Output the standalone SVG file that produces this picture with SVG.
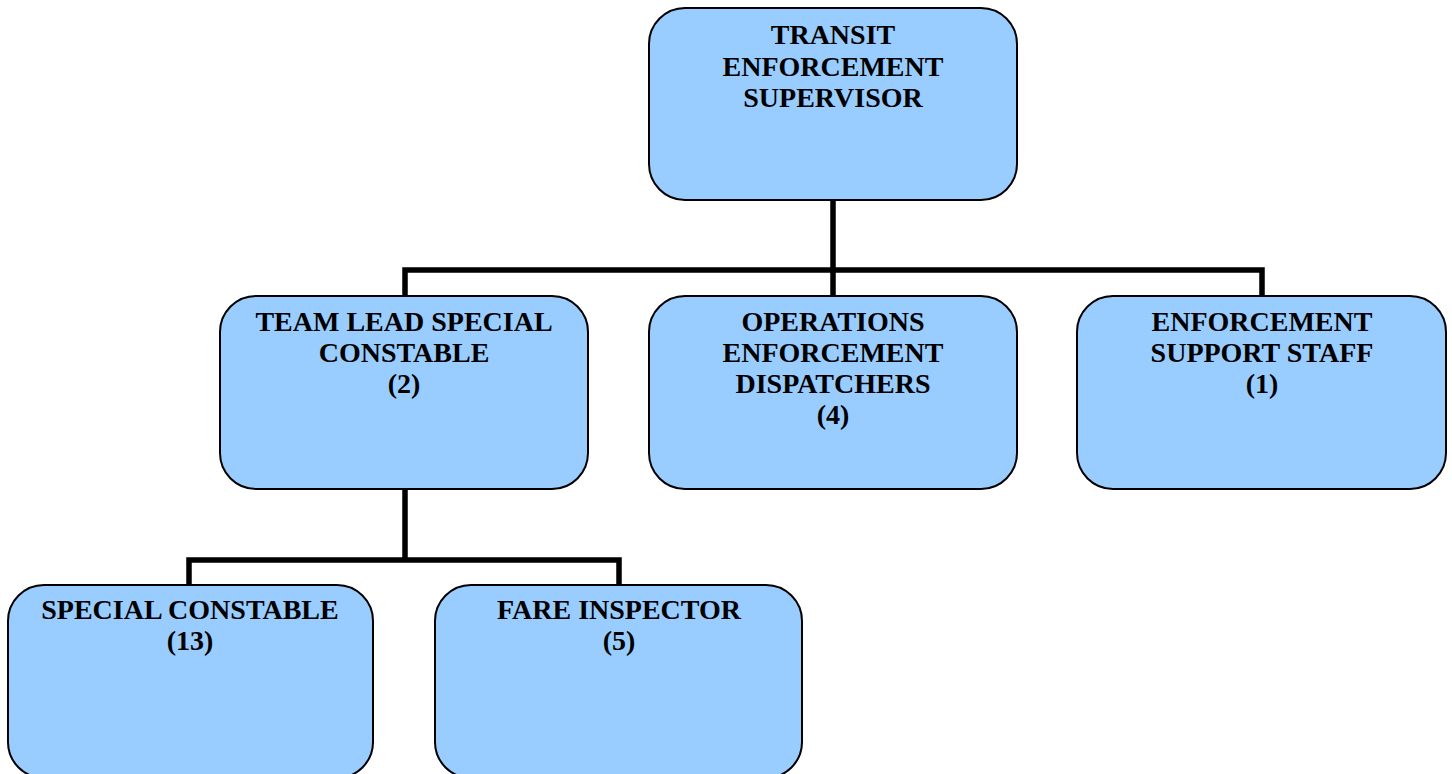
<svg xmlns="http://www.w3.org/2000/svg" width="1452" height="774" viewBox="0 0 1452 774">
<style>
.box{fill:#99ccff;stroke:#000;stroke-width:2}
.lbl{font-family:"Liberation Serif","Times New Roman",serif;font-weight:bold;font-size:28px;fill:#000;text-anchor:middle}
.conn{fill:none;stroke:#000;stroke-width:5.5;stroke-linecap:butt;stroke-linejoin:miter}
</style>
<rect width="1452" height="774" fill="#fff"/>
<g id="connectors">
<path class="conn" d="M833 200V270M405 296V270H1262V296M833 270V296"/>
<path class="conn" d="M405 489V560M189 585V560H619V585"/>
</g>
<g id="supervisor">
<rect class="box" x="649" y="8" width="368" height="192" rx="36"/>
<text class="lbl" x="833" y="44">TRANSIT</text>
<text class="lbl" x="833" y="75.5">ENFORCEMENT</text>
<text class="lbl" x="833" y="107">SUPERVISOR</text>
</g>
<g id="teamlead">
<rect class="box" x="220" y="296" width="368" height="193" rx="36"/>
<text class="lbl" x="404" y="331">TEAM LEAD SPECIAL</text>
<text class="lbl" x="404" y="362">CONSTABLE</text>
<text class="lbl" x="404" y="393">(2)</text>
</g>
<g id="dispatchers">
<rect class="box" x="649" y="296" width="368" height="193" rx="36"/>
<text class="lbl" x="833" y="331">OPERATIONS</text>
<text class="lbl" x="833" y="362">ENFORCEMENT</text>
<text class="lbl" x="833" y="393">DISPATCHERS</text>
<text class="lbl" x="833" y="424">(4)</text>
</g>
<g id="support">
<rect class="box" x="1077" y="296" width="369" height="193" rx="36"/>
<text class="lbl" x="1262" y="331">ENFORCEMENT</text>
<text class="lbl" x="1262" y="362">SUPPORT STAFF</text>
<text class="lbl" x="1262" y="393">(1)</text>
</g>
<g id="constable">
<rect class="box" x="8" y="585" width="365" height="193" rx="36"/>
<text class="lbl" x="190" y="619">SPECIAL CONSTABLE</text>
<text class="lbl" x="190" y="650">(13)</text>
</g>
<g id="inspector">
<rect class="box" x="435" y="585" width="367" height="193" rx="36"/>
<text class="lbl" x="619" y="619">FARE INSPECTOR</text>
<text class="lbl" x="619" y="650">(5)</text>
</g>
</svg>
